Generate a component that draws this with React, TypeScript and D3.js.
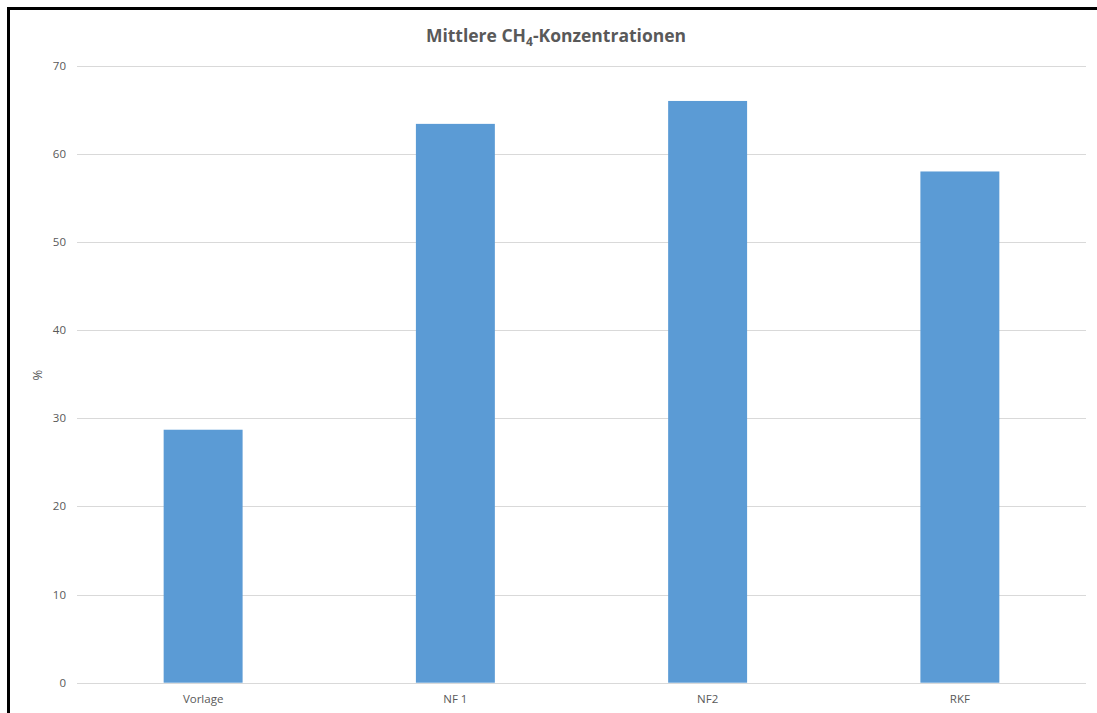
import React, { useEffect } from "react";
import * as d3 from "d3";

const categories = ["Vorlage", "NF 1", "NF2", "RKF"];
const values = [28.7, 63.4, 66.0, 58.0];
const yTicks = [0, 10, 20, 30, 40, 50, 60, 70];

const W = 1097;
const H = 713;
const plot = { left: 77, right: 1086, top: 65.7, bottom: 682.7 };
const font = "'Open Sans', 'Liberation Sans', sans-serif";
const textGrey = "#595959";

export default function App() {
  useEffect(() => {
    document.documentElement.style.overflow = "hidden";
    document.body.style.overflow = "hidden";
  }, []);

  const y = d3.scaleLinear().domain([0, 70]).range([plot.bottom, plot.top]);
  const x = d3
    .scaleBand<string>()
    .domain(categories)
    .range([plot.left, plot.right])
    .paddingInner(0.687)
    .paddingOuter(0.3435);

  return (
    <svg
      width={W}
      height={H}
      style={{ position: "absolute", left: 0, top: 0, background: "#fff", overflow: "hidden" }}
      fontFamily={font}
    >
      <rect x={0} y={0} width={W} height={H} fill="#fff" />
      {/* chart frame: top and left edges (the rest lies outside the page) */}
      <line x1={7} x2={W} y1={8.5} y2={8.5} stroke="#000" strokeWidth={3} />
      <line x1={8.5} x2={8.5} y1={7} y2={H} stroke="#000" strokeWidth={3} />

      {/* gridlines and y tick labels */}
      {yTicks.map((t) => (
        <g key={t}>
          <line
            x1={plot.left}
            x2={plot.right}
            y1={Math.round(y(t)) + 0.5}
            y2={Math.round(y(t)) + 0.5}
            stroke="#d9d9d9"
            strokeWidth={1}
          />
          <text
            x={66}
            y={y(t)}
            dy="0.35em"
            textAnchor="end"
            fontSize={11.5}
            fill={textGrey}
          >
            {t}
          </text>
        </g>
      ))}

      {/* bars */}
      {categories.map((c, i) => (
        <rect
          key={c}
          x={x(c)}
          y={y(values[i])}
          width={x.bandwidth()}
          height={y(0) - y(values[i])}
          fill="#5b9bd5"
        />
      ))}

      {/* category labels */}
      {categories.map((c) => (
        <text
          key={c}
          x={(x(c) ?? 0) + x.bandwidth() / 2}
          y={703}
          textAnchor="middle"
          fontSize={11.5}
          fill={textGrey}
        >
          {c}
        </text>
      ))}

      {/* y axis title */}
      <text
        transform="translate(42,375) rotate(-90)"
        textAnchor="middle"
        fontSize={13}
        fill={textGrey}
      >
        %
      </text>

      {/* chart title */}
      <text x={556} y={42} textAnchor="middle" fontSize={17.5} fontWeight="bold" fill={textGrey}>
        Mittlere CH
        <tspan fontSize={12} dy={4}>4</tspan>
        <tspan dy={-4}>-Konzentrationen</tspan>
      </text>
    </svg>
  );
}
